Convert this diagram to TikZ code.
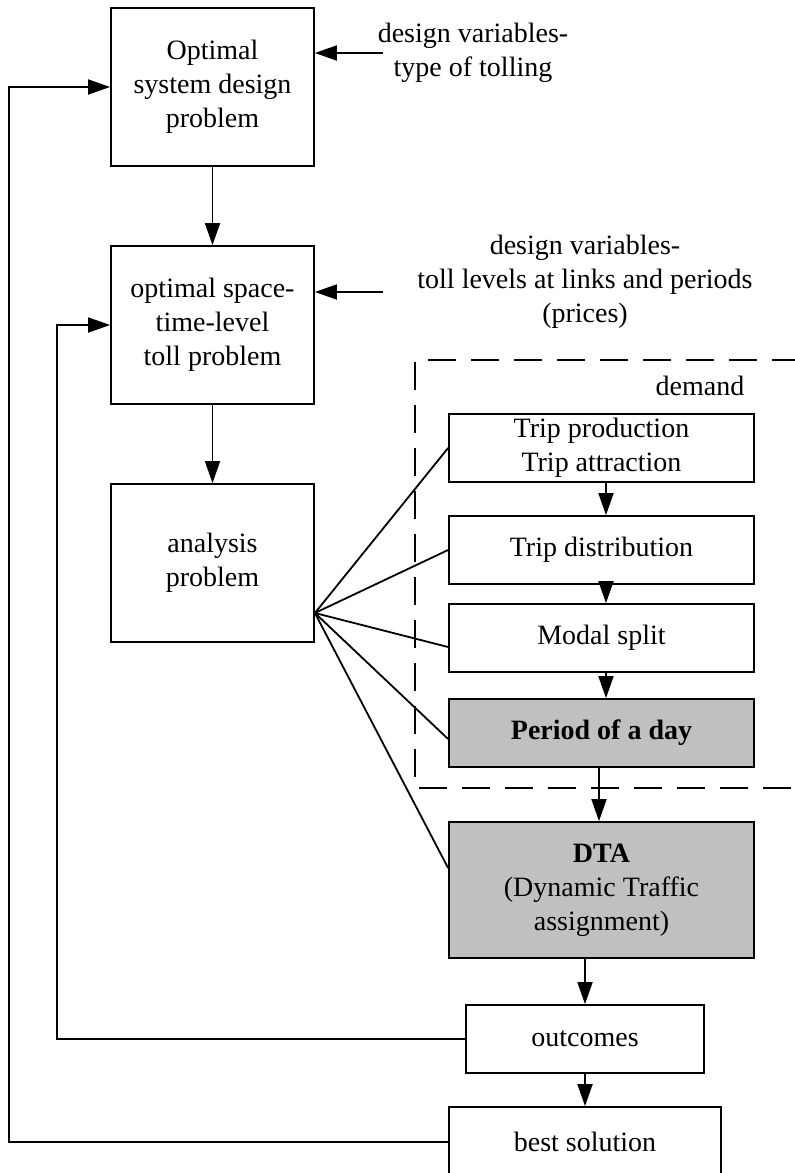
\documentclass[tikz,border=0pt]{standalone}
\usepackage{fontspec}
\setmainfont{Liberation Serif}
\usetikzlibrary{arrows.meta,positioning,calc}
\definecolor{boxgray}{HTML}{C0C0C0}

\begin{document}
\begin{tikzpicture}[x=0.5pt,y=-0.5pt,
  font=\fontsize{14}{17}\selectfont,
  box/.style={draw,line width=0.9pt,align=center,inner sep=0pt},
  bigbox/.style={box,minimum width=101.5pt,minimum height=79pt},
  dbox/.style={box,minimum width=152.5pt,minimum height=34pt},
  shade/.style={fill=boxgray},
  flow/.style={line width=0.9pt,-{Triangle[length=11pt,width=7.5pt]}},
  link/.style={line width=0.9pt}]
  \useasboundingbox (0,0) rectangle (795,1173);

  % left column
  \node[bigbox] (sysdesign) at (212.5,87) {Optimal\\system design\\problem};
  \node[bigbox] (tollprob) at (212.5,325) {optimal space-\\time-level\\toll problem};
  \node[bigbox] (analysis) at (212.5,563) {analysis\\problem};

  % demand column
  \node[dbox] (tripgen) at (601.5,448) {Trip production\\Trip attraction};
  \node[dbox] (tripdist) at (601.5,550) {Trip distribution};
  \node[dbox] (modal) at (601.5,638) {Modal split};
  \node[dbox,shade,font=\fontsize{14}{17}\selectfont\bfseries] (period) at (601.5,733) {Period of a day};
  \node[box,shade,minimum width=152.5pt,minimum height=68pt] (dta) at (601.5,890) {\textbf{DTA}\\(Dynamic Traffic\\assignment)};
  \node[box,minimum width=119pt,minimum height=34pt] (outcomes) at (585,1039) {outcomes};
  \node[box,minimum width=136pt,minimum height=35pt] (best) at (585,1142) {best solution};

  \node[align=center,inner sep=0pt] (vartype) at (473,53) {design variables-\\type of tolling};
  \node[align=center,inner sep=0pt] (varlevel) at (585,282) {design variables-\\toll levels at links and periods\\(prices)};
  \node[inner sep=0pt] (demand) at (700,386) {demand};
  \draw[line width=0.9pt,dash pattern=on 14pt off 7.5pt] (800,360) -- (415,360) -- (415,788) -- (800,788);

  \draw[flow] (sysdesign) -- (tollprob);
  \draw[flow] (tollprob) -- (analysis);
  \coordinate (in1) at (383,53);
  \coordinate (in2) at (383,292);
  \draw[flow] (in1) -- (in1 -| sysdesign.east);
  \draw[flow] (in2) -- (in2 -| tollprob.east);

  \coordinate (col) at (606,0);
  \draw[flow] (col |- tripgen.south) -- (col |- tripdist.north);
  \draw[flow] (col |- tripdist.south) -- (col |- modal.north);
  \draw[flow] (col |- modal.south) -- (col |- period.north);
  \draw[flow] ([xshift=-1.25pt]period.south) -- ([xshift=-1.25pt]dta.north);
  \draw[flow] (outcomes.north |- dta.south) -- (outcomes.north);
  \draw[flow] (outcomes) -- (best);

  % fan from the analysis box
  \coordinate (fan) at ($(analysis.east)+(0,50)$);
  \draw[link] (fan) -- (tripgen.west);
  \draw[link] (fan) -- (tripdist.west);
  \draw[link] (fan) -- ($(modal.west)+(0,9)$);
  \draw[link] (fan) -- ($(period.west)+(0,6)$);
  \draw[link] (fan) -- ($(dta.west)+(0,-22)$);

  % feedback loops
  \coordinate (loopin) at (57,0);
  \coordinate (loopout) at (9,0);
  \draw[flow] (outcomes.west) -| (loopin |- tollprob.west) -- (tollprob.west);
  \draw[flow] (best.west) -| (loopout |- sysdesign.west) -- (sysdesign.west);
\end{tikzpicture}
\end{document}
